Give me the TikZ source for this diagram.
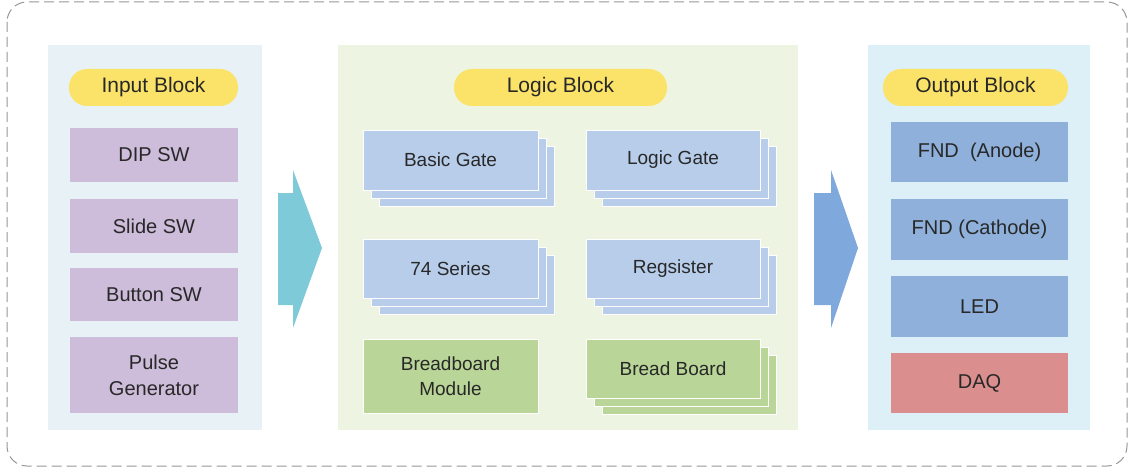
\documentclass[tikz,border=0pt]{standalone}
\usepackage{fontspec}
\setmainfont{Liberation Sans}
\usetikzlibrary{shadows}
\definecolor{txt}{RGB}{40,40,40}
\definecolor{pill}{RGB}{251,227,106}
\definecolor{inbg}{RGB}{232,241,245}
\definecolor{logbg}{RGB}{238,244,226}
\definecolor{outbg}{RGB}{221,239,247}
\definecolor{purp}{RGB}{205,188,218}
\definecolor{lblue}{RGB}{183,205,234}
\definecolor{lgreen}{RGB}{185,213,151}
\definecolor{oblue}{RGB}{143,176,218}
\definecolor{daq}{RGB}{219,142,142}
\definecolor{arrowa}{RGB}{126,202,217}
\definecolor{arrowb}{RGB}{127,168,220}
\definecolor{dashcol}{RGB}{150,150,150}
\begin{document}
\begin{tikzpicture}[x=1pt,y=-1pt,
  title/.style={fill=pill,rounded corners=18pt,minimum height=37pt,text=txt,font=\fontsize{21}{24}\selectfont},
  item/.style={inner sep=0pt,text=txt,align=center,font=\fontsize{20}{26}\selectfont},
  logitem/.style={item,draw=white,line width=0.8pt,font=\fontsize{19}{25}\selectfont},
  stack/.style={double copy shadow={shadow xshift=8pt,shadow yshift=-8pt}}]
\useasboundingbox (0,0) rectangle (1131,473);
\draw [dashcol, line width=1pt, dash pattern=on 10pt off 5pt, rounded corners=20pt] (7,2) rectangle (1127,466);
\fill [inbg] (48,45) rectangle (262,430);
\fill [logbg] (338,45) rectangle (798,430);
\fill [outbg] (868,45) rectangle (1090,430);
\fill [arrowa] (278,193) -- (293,193) -- (293,170) -- (322,248) -- (293,328) -- (293,305) -- (278,305) -- cycle;
\fill [arrowb] (814,193) -- (831,193) -- (831,170) -- (858,248) -- (831,328) -- (831,305) -- (814,305) -- cycle;
\node [title,minimum width=169pt] (intitle) at (153.5,87.5) {Input Block};
\node [item,fill=purp,minimum width=168pt,minimum height=54pt] (dip) at (154,155) {DIP SW};
\node [item,fill=purp,minimum width=168pt,minimum height=54pt] (slide) at (154,226) {Slide SW};
\node [item,fill=purp,minimum width=168pt,minimum height=53pt] (button) at (154,294.5) {Button SW};
\node [item,fill=purp,minimum width=168pt,minimum height=76pt] (pulse) at (154,375) {Pulse\\Generator};
\node [title,minimum width=213pt] (logtitle) at (560.5,87.5) {Logic Block};
\node [logitem,stack,fill=lblue,minimum width=175pt,minimum height=60pt] (basic) at (450.5,160) {Basic Gate};
\node [logitem,stack,fill=lblue,minimum width=174pt,minimum height=60pt] (logic) at (673,160) {Logic Gate};
\node [logitem,stack,fill=lblue,minimum width=175pt,minimum height=59pt] (series) at (450.5,268.5) {74 Series};
\node [logitem,stack,fill=lblue,minimum width=174pt,minimum height=59pt] (reg) at (673,268.5) {Regsister};
\node [logitem,fill=lgreen,minimum width=175pt,minimum height=74pt] (module) at (450.5,376) {Breadboard\\Module};
\node [logitem,stack,fill=lgreen,minimum width=174pt,minimum height=59pt] (board) at (673,368.5) {Bread Board};
\node [title,minimum width=185pt] (outtitle) at (975.5,87.5) {Output Block};
\node [item,fill=oblue,minimum width=177pt,minimum height=60pt] (anode) at (979.5,152) {FND~ (Anode)};
\node [item,fill=oblue,minimum width=177pt,minimum height=61pt] (cathode) at (979.5,229.5) {FND (Cathode)};
\node [item,fill=oblue,minimum width=177pt,minimum height=61pt] (led) at (979.5,306.5) {LED};
\node [item,fill=daq,minimum width=177pt,minimum height=60pt] (daqbox) at (979.5,383) {DAQ};
\end{tikzpicture}
\end{document}
